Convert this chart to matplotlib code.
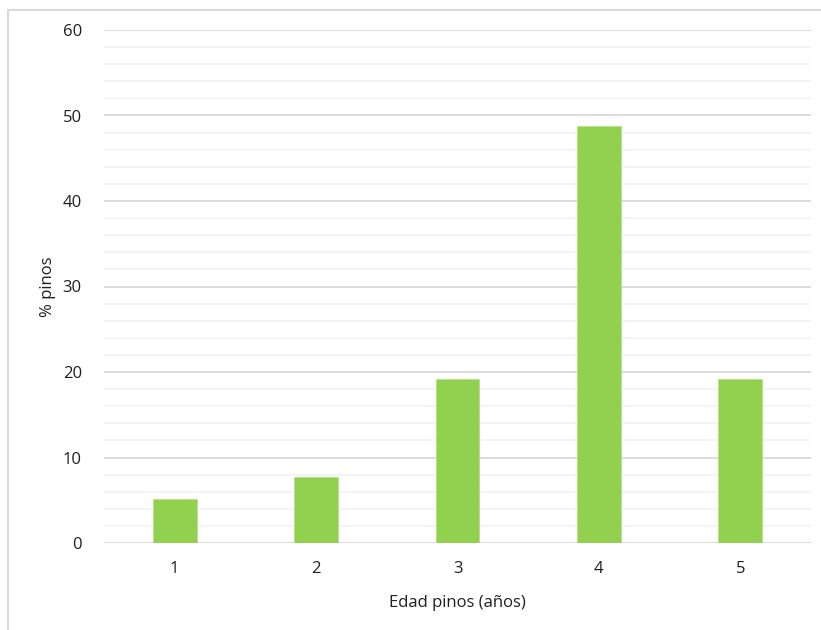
import matplotlib
matplotlib.use("Agg")
import matplotlib.pyplot as plt
from matplotlib.patches import Rectangle
from matplotlib.ticker import MultipleLocator

# Data: share of pines (%) per age class
edades = ["1", "2", "3", "4", "5"]
porcentaje = [5.13, 7.69, 19.23, 48.72, 19.23]

plt.rcParams["font.family"] = ["Open Sans", "DejaVu Sans"]

fig = plt.figure(figsize=(8.21, 6.30), dpi=100)
ax = fig.add_axes([104 / 821, 1 - 543 / 630, 707 / 821, 513 / 630])

x = range(len(edades))
ax.bar(x, porcentaje, width=0.31, color="#92D050", edgecolor="#b5e08a",
       linewidth=0.6, zorder=3)

ax.set_xlim(-0.5, len(edades) - 0.5)
ax.set_ylim(0, 60)
ax.set_xticks(list(x))
ax.set_xticklabels(edades)
ax.yaxis.set_major_locator(MultipleLocator(10))
ax.yaxis.set_minor_locator(MultipleLocator(2))

ax.grid(which="major", axis="y", color="#d9d9d9", linewidth=1.3, zorder=0)
ax.grid(which="minor", axis="y", color="#f2f2f2", linewidth=1.2, zorder=0)
for s in ax.spines.values():
    s.set_visible(False)
ax.tick_params(axis="both", which="both", length=0, labelsize=12,
               colors="#1f1f1f")
ax.tick_params(axis="y", pad=16)
ax.tick_params(axis="x", pad=13)

ax.set_xlabel("Edad pinos (años)", fontsize=12, color="#1f1f1f", labelpad=13)
ax.set_ylabel("% pinos", fontsize=12, color="#1f1f1f", labelpad=5)

# chart area border (cropped on right/bottom)
fig.patches.append(Rectangle((8 / 821, -0.1), 2, 1.1 - 10 / 630,
                             transform=fig.transFigure, fill=False,
                             edgecolor="#d9d9d9", linewidth=1.5))

fig.savefig("out.png", dpi=100)
